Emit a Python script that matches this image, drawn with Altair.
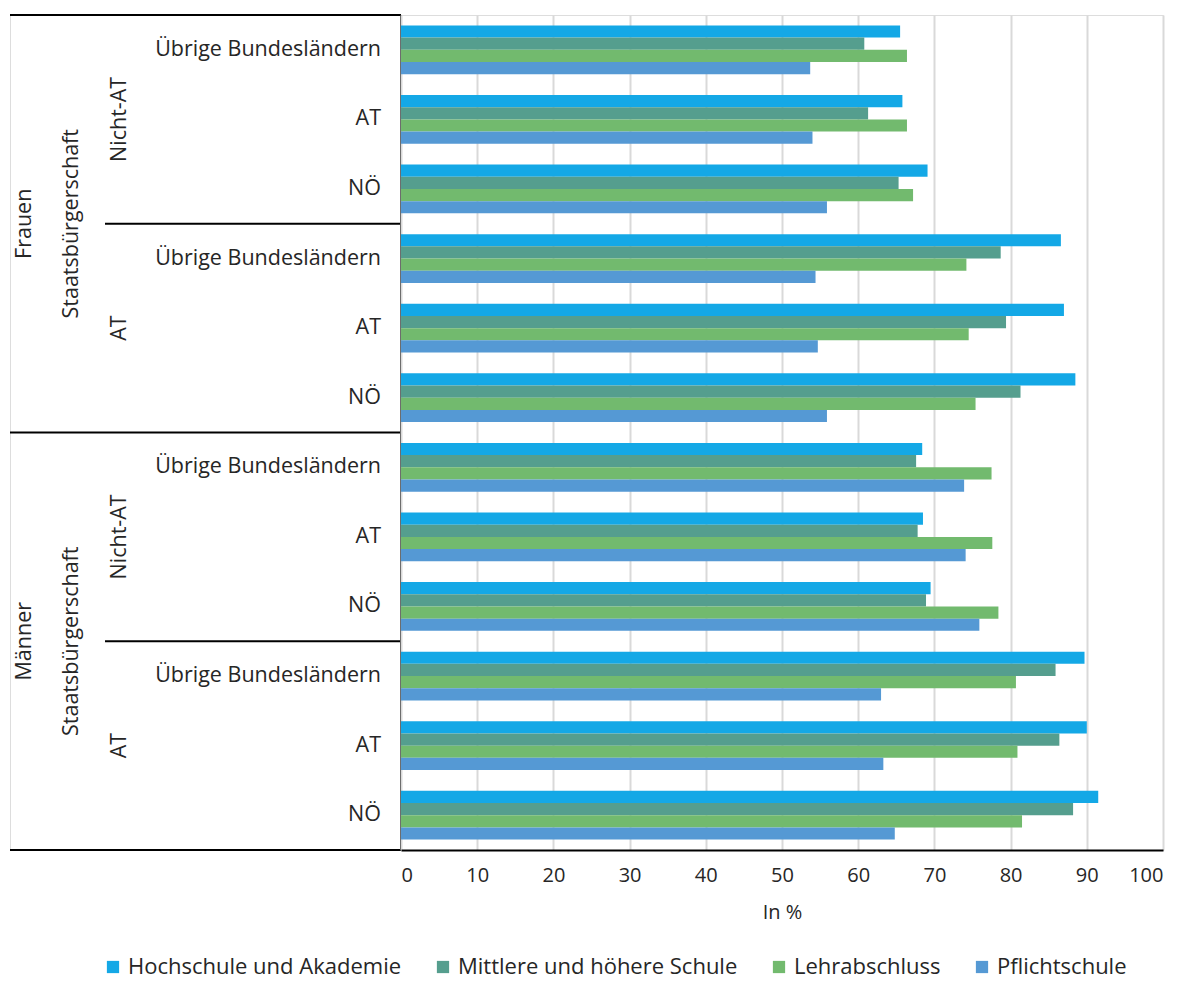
import altair as alt
import pandas as pd

# Hierarchy of the twelve row groups (top to bottom)
geschlecht = ["Frauen"] * 6 + ["Männer"] * 6
staatsbuergerschaft = (["Nicht-AT"] * 3 + ["AT"] * 3) * 2
wohnort = ["Übrige Bundesländern", "AT", "NÖ"] * 4

# Education levels, drawn top to bottom inside each group
bildung = [
    "Hochschule und Akademie",
    "Mittlere und höhere Schule",
    "Lehrabschluss",
    "Pflichtschule",
]
farben = ["#14A8E6", "#559E8E", "#72BA6E", "#5599D4"]

# Shares in percent, one value per row group
hochschule = [65.5, 65.8, 69.1, 86.6, 87.0, 88.5, 68.4, 68.5, 69.5, 89.7, 90.0, 91.5]
mittlere = [60.8, 61.3, 65.3, 78.7, 79.4, 81.3, 67.6, 67.8, 68.9, 85.9, 86.4, 88.2]
lehre = [66.4, 66.4, 67.2, 74.2, 74.5, 75.4, 77.5, 77.6, 78.4, 80.7, 80.9, 81.5]
pflicht = [53.7, 54.0, 55.9, 54.4, 54.7, 55.9, 73.9, 74.1, 75.9, 63.0, 63.3, 64.8]

x_ticks = list(range(0, 101, 10))

FONT = "Open Sans"
TXT = "#262626"
LABEL_SIZE = 21.5
PLOT_W, PLOT_H = 762, 835
LEFT_W = 391

rows = []
for i in range(len(wohnort)):
    for name, series in zip(bildung, [hochschule, mittlere, lehre, pflicht]):
        rows.append({"gid": i, "Bildung": name, "Wert": series[i]})
bars_df = pd.DataFrame(rows)

bars = (
    alt.Chart(bars_df)
    .mark_bar()
    .encode(
        x=alt.X(
            "Wert:Q",
            scale=alt.Scale(domain=[0, 100], nice=False),
            axis=alt.Axis(
                values=x_ticks,
                title="In %",
                titleFont=FONT,
                titleFontSize=20,
                titleFontWeight="normal",
                titleColor=TXT,
                titlePadding=17,
                labelFont=FONT,
                labelFontSize=20,
                labelColor=TXT,
                labelPadding=15,
                ticks=False,
                grid=True,
                gridColor="#D9D9D9",
                gridWidth=2,
                domainColor="#000000",
                domainWidth=2,
            ),
        ),
        y=alt.Y(
            "gid:O",
            scale=alt.Scale(paddingInner=0.3, paddingOuter=0.15),
            axis=None,
        ),
        yOffset=alt.YOffset("Bildung:N", sort=bildung),
        color=alt.Color(
            "Bildung:N",
            sort=bildung,
            scale=alt.Scale(domain=bildung, range=farben),
            legend=alt.Legend(
                title=None,
                orient="none",
                legendX=92,
                legendY=941,
                direction="horizontal",
                columns=4,
                symbolType="square",
                symbolSize=150,
                symbolStrokeWidth=0,
                labelFont=FONT,
                labelFontSize=22,
                labelColor=TXT,
                labelOffset=4,
                columnPadding=30,
                labelLimit=400,
            ),
        ),
    )
    .properties(width=PLOT_W, height=PLOT_H)
)

# Left-hand category hierarchy
inner_df = pd.DataFrame({"label": wohnort, "pos": [i + 0.5 for i in range(12)]})
mid_df = pd.DataFrame({"label": [staatsbuergerschaft[i] for i in (0, 3, 6, 9)],
                       "pos": [1.5, 4.5, 7.5, 10.5]})
outer_df = pd.DataFrame({"label": [geschlecht[0], geschlecht[6]], "pos": [3, 9]})
sb_df = pd.DataFrame({"label": ["Staatsbürgerschaft"] * 2, "pos": [3, 9]})

ysc = alt.Scale(domain=[0, 12], reverse=True, nice=False, zero=False)
xsc = alt.Scale(domain=[0, LEFT_W], nice=False, zero=False)


def labels(df, xpix, angle, align):
    return (
        alt.Chart(df)
        .mark_text(font=FONT, fontSize=LABEL_SIZE, color=TXT, angle=angle,
                   align=align, baseline="middle")
        .encode(
            x=alt.X("xp:Q", scale=xsc, axis=None),
            y=alt.Y("pos:Q", scale=ysc, axis=None),
            text="label:N",
        )
        .transform_calculate(xp=str(xpix))
    )


# Separator lines of the category hierarchy
rule_df = pd.DataFrame({
    "y": [0, 6, 12, 3, 9],
    "x0": [0, 0, 0, 95, 95],
    "x1": [LEFT_W] * 5,
})
rules = (
    alt.Chart(rule_df)
    .mark_rule(color="#000000", strokeWidth=2)
    .encode(
        x=alt.X("x0:Q", scale=xsc, axis=None),
        x2="x1:Q",
        y=alt.Y("y:Q", scale=ysc, axis=None),
    )
)

# Vertical category axis line along the left edge of the bars
vline = (
    alt.Chart(pd.DataFrame({"x": [LEFT_W], "y0": [0], "y1": [12]}))
    .mark_rule(color="#000000", strokeWidth=2)
    .encode(
        x=alt.X("x:Q", scale=xsc, axis=None),
        y=alt.Y("y0:Q", scale=ysc, axis=None),
        y2="y1:Q",
    )
)

left = alt.layer(
    rules,
    vline,
    labels(inner_df, 371, 0, "right"),
    labels(mid_df, 110, 270, "center"),
    labels(sb_df, 62, 270, "center"),
    labels(outer_df, 15, 270, "center"),
).properties(width=LEFT_W, height=PLOT_H)

chart = (
    alt.hconcat(left, bars, spacing=0, bounds="flush")
    .properties(padding={"left": 8, "top": 13, "right": 10, "bottom": 6})
    .configure_view(stroke=None)
    .configure(background="white")
)

chart.save("out.html", embed_options={"renderer": "svg", "actions": False})
